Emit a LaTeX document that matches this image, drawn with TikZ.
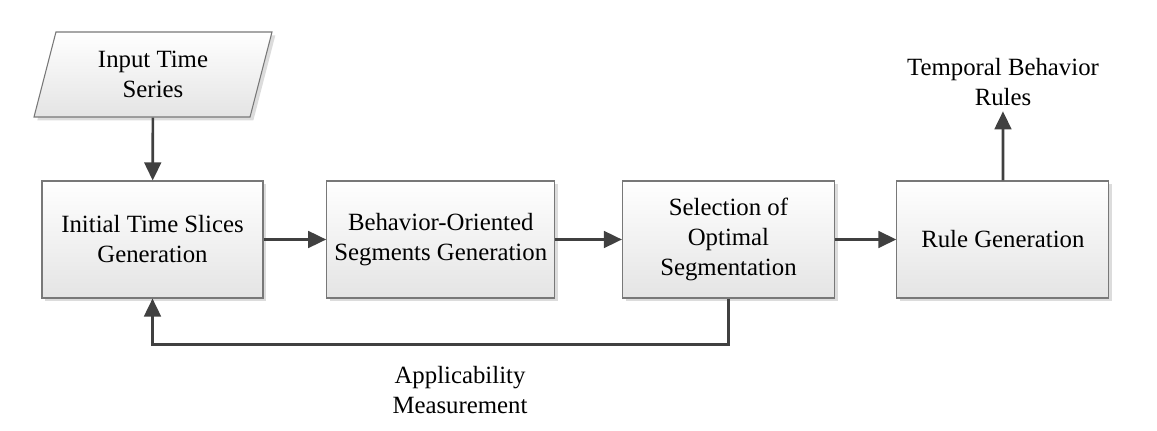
\documentclass[tikz,border=0pt]{standalone}
\usepackage{fontspec}
\setmainfont{Liberation Serif}
\usepackage{tikz}
\usetikzlibrary{positioning,arrows.meta,shapes.geometric,shadows}
\usepackage{xcolor}
\definecolor{edgegray}{RGB}{120,120,120}
\definecolor{arrowgray}{RGB}{64,64,64}
\definecolor{boxbottom}{RGB}{228,228,228}
\definecolor{shadowgray}{RGB}{220,220,220}

\begin{document}
\begin{tikzpicture}[x=0.75pt,y=0.75pt,
  font=\fontsize{18.6}{22.5}\selectfont,
  stepbox/.style={rectangle,draw=edgegray,line width=0.8pt,top color=white,bottom color=boxbottom,
    minimum height=87.75pt,align=center,inner sep=2pt,
    drop shadow={fill=shadowgray,shadow xshift=2.5pt,shadow yshift=-2.5pt,opacity=1}},
  iobox/.style={trapezium,trapezium left angle=66,trapezium right angle=114,trapezium stretches body,
    draw=edgegray,line width=0.8pt,top color=white,bottom color=boxbottom,
    minimum width=178.5pt,minimum height=63.75pt,align=center,inner sep=1pt,
    drop shadow={fill=shadowgray,shadow xshift=2.5pt,shadow yshift=-2.5pt,opacity=1}},
  arr/.style={draw=arrowgray,line width=2pt,-{Triangle[length=13.5pt,width=12.5pt]}}]
\useasboundingbox (0,0) rectangle (1157,431);

% main chain
\node[stepbox,minimum width=165.75pt] (init) at (152.5,191.5) {Initial Time Slices\\Generation};
\node[stepbox,minimum width=171pt,right=47pt of init] (seg) {Behavior-Oriented\\Segments Generation};
\node[stepbox,minimum width=159pt,right=50pt of seg] (sel) {Selection of\\Optimal\\Segmentation};
\node[stepbox,minimum width=159pt,right=46pt of sel] (rule) {Rule Generation};

% input and output
\node[iobox] (input) at (153,356.5) {Input Time\\Series};
\node[align=center,inner sep=4pt] (rules) at (1003,349) {Temporal Behavior\\Rules};

\draw[arr] (input) -- (init);
\draw[arr] (init) -- (seg);
\draw[arr] (seg) -- (sel);
\draw[arr] (sel) -- (rule);
\draw[arr] (rule) -- (rules);

% feedback loop
\coordinate (fb) at ([yshift=-34.5pt]sel.south);
\draw[arr] (sel.south) -- (fb) -| (init.south);
\node[align=center] (appl) at (460,40.5) {Applicability\\Measurement};
\end{tikzpicture}
\end{document}
